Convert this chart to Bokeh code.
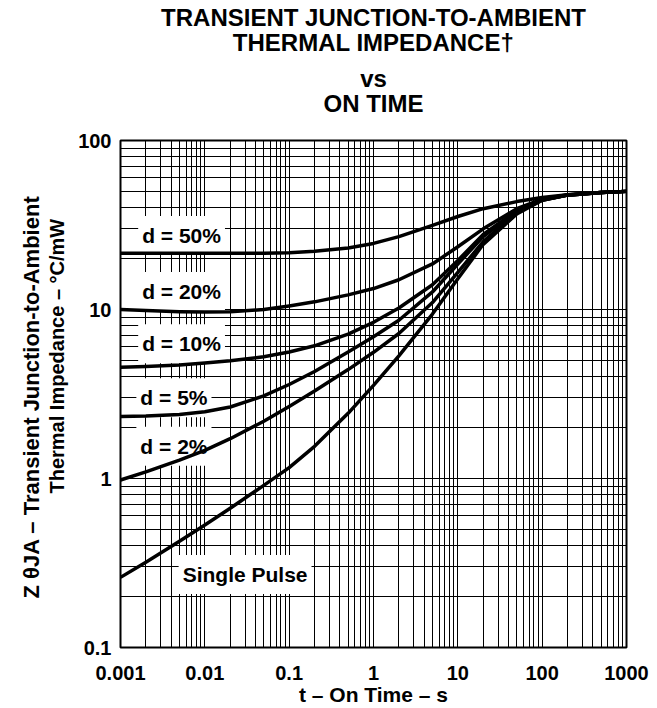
from bokeh.plotting import figure
from bokeh.models import FixedTicker, Label, NumeralTickFormatter, Range1d, Title, LogAxis
from bokeh.embed import file_html
from bokeh.resources import INLINE

# ---- data ----
t_on = [0.001, 0.002, 0.005, 0.01, 0.02, 0.05, 0.1, 0.2, 0.5, 1, 2, 5,
        10, 20, 50, 100, 200, 500, 1000]
z_d50 = [21.5, 21.5, 21.5, 21.5, 21.5, 21.5, 21.7, 22.1, 23.1, 24.6, 27.0,
         31.5, 35.5, 39.5, 43.5, 46.0, 47.8, 49.2, 50.0]
z_d20 = [10.0, 9.85, 9.7, 9.65, 9.7, 10.0, 10.5, 11.1, 12.2, 13.3, 15.0,
         18.6, 23.5, 30.0, 39.5, 45.0, 47.7, 49.2, 50.0]
z_d10 = [4.56, 4.6, 4.7, 4.82, 4.97, 5.25, 5.6, 6.1, 7.15, 8.4, 10.2,
         14.0, 19.5, 27.8, 38.5, 44.6, 47.6, 49.2, 50.0]
z_d5 = [2.33, 2.345, 2.39, 2.48, 2.65, 3.08, 3.6, 4.3, 5.6, 6.9, 8.64,
        12.7, 18.6, 27.0, 38.0, 44.5, 47.5, 49.2, 50.0]
z_d2 = [0.98, 1.095, 1.285, 1.466, 1.72, 2.18, 2.67, 3.29, 4.41, 5.58, 7.21,
        11.0, 16.6, 25.2, 37.5, 44.3, 47.5, 49.2, 50.0]
z_single = [0.26, 0.32, 0.425, 0.53, 0.667, 0.91, 1.16, 1.55, 2.43, 3.56, 5.32,
            9.4, 15.2, 24.3, 36.8, 44.3, 47.5, 49.2, 50.0]
series = [z_d50, z_d20, z_d10, z_d5, z_d2, z_single]

label_texts = ["d = 50%", "d = 20%", "d = 10%", "d = 5%", "d = 2%", "Single Pulse"]
label_t = [0.0053, 0.0053, 0.0053, 0.0043, 0.0043, 0.030]
label_z = [27.4, 12.8, 6.27, 3.0, 1.55, 0.27]

x_major = [0.001, 0.01, 0.1, 1, 10, 100, 1000]
y_major = [0.1, 1, 10, 100]

title_text = ("TRANSIENT JUNCTION-TO-AMBIENT\n\nTHERMAL IMPEDANCE\u2020\n\n\n"
              "vs\n\nON TIME")
x_title = "t \u2013 On Time \u2013 s"
y_title_1 = "Z \u03b8JA \u2013 Transient Junction-to-Ambient"
y_title_2 = "Thermal Impedance \u2013 \u00b0C/mW"

FONT = "Liberation Sans"

# ---- layout (page pixels) ----
FRAME_LEFT, FRAME_TOP, FRAME_W, FRAME_H = 120, 140, 506, 507
W, H = 653, 708

x_minor = [m * 10.0 ** e for e in range(-3, 3) for m in range(2, 10)]
y_minor = [m * 10.0 ** e for e in range(-1, 2) for m in range(2, 10)]

p = figure(width=W, height=H, x_axis_type="log", y_axis_type="log",
           x_range=Range1d(0.001, 1000), y_range=Range1d(0.1, 100),
           output_backend="svg", toolbar_location=None,
           min_border_left=FRAME_LEFT, min_border_right=W - FRAME_LEFT - FRAME_W,
           min_border_top=FRAME_TOP, min_border_bottom=H - FRAME_TOP - FRAME_H)

p.outline_line_color = "black"
p.outline_line_width = 2
p.outline_line_alpha = 1

bottom_axis = p.below[0]
left_axis = p.left[0]

bottom_axis.ticker = FixedTicker(ticks=x_major, minor_ticks=x_minor)
left_axis.ticker = FixedTicker(ticks=y_major, minor_ticks=y_minor)
bottom_axis.formatter = NumeralTickFormatter(format="0.[000]")
left_axis.formatter = NumeralTickFormatter(format="0.[0]")

# title block as the label of an (otherwise empty) axis above the plot
top_axis = LogAxis(ticker=FixedTicker(ticks=[]))
p.add_layout(top_axis, "above")

for ax in (bottom_axis, left_axis, top_axis):
    ax.axis_line_color = None
    ax.major_tick_line_color = None
    ax.minor_tick_line_color = None
    ax.major_tick_out = 0
    ax.major_tick_in = 0
    ax.minor_tick_out = 0
    ax.minor_tick_in = 0
    ax.major_label_text_font = FONT
    ax.major_label_text_font_style = "bold"
    ax.major_label_text_font_size = "20px"
    ax.major_label_text_color = "black"
    ax.axis_label_text_font = FONT
    ax.axis_label_text_font_style = "bold"
    ax.axis_label_text_color = "black"

top_axis.major_label_standoff = 0
top_axis.axis_label = title_text
top_axis.axis_label_text_font_size = "24px"
top_axis.axis_label_text_line_height = 0.45
top_axis.axis_label_standoff = 24

bottom_axis.axis_label = x_title
bottom_axis.axis_label_text_font_size = "21px"
bottom_axis.major_label_standoff = 18
bottom_axis.axis_label_standoff = 0

left_axis.major_label_standoff = 9
left_axis.axis_label = "\u00a0"           # invisible spacer before the y titles
left_axis.axis_label_text_font_size = "1px"
left_axis.axis_label_standoff = 4

for g in (p.xgrid, p.ygrid):
    g.grid_line_color = "black"
    g.grid_line_width = 1
    g.grid_line_alpha = 1
    g.minor_grid_line_color = "black"
    g.minor_grid_line_width = 1
    g.minor_grid_line_alpha = 1

for z in series:
    p.line(t_on, z, line_width=3.5, line_color="black", line_join="round")

# curve labels: white boxes over the grid, underneath the curves
for txt, lx, ly in zip(label_texts, label_t, label_z):
    p.add_layout(Label(x=lx, y=ly, text=txt, text_align="center",
                       text_baseline="middle", text_font=FONT,
                       text_font_style="bold", text_font_size="21px",
                       text_color="black", background_fill_color="white",
                       background_fill_alpha=1, padding=(4, 8),
                       level="underlay"))

# two-line y title: inner line first, outer line second
p.add_layout(Title(text=y_title_2, align="left", offset=154, standoff=0,
                   text_font=FONT, text_font_style="bold", text_font_size="20px",
                   text_color="black"), "left")
p.add_layout(Title(text=y_title_1, align="left", offset=49, standoff=0,
                   text_font=FONT, text_font_style="bold", text_font_size="22px",
                   text_color="black"), "left")

open("out.html", "w").write(file_html(p, INLINE))
